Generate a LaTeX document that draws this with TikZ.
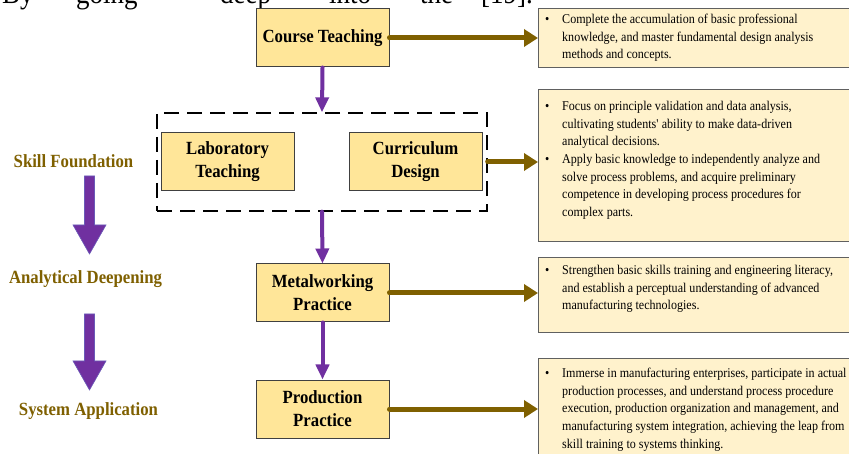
\documentclass[tikz,border=0pt]{standalone}
\usepackage{fontspec}
\setmainfont[FakeStretch=0.9]{Liberation Serif}
\usetikzlibrary{arrows.meta,calc}

\definecolor{boxfill}{HTML}{FFE699}
\definecolor{boxline}{HTML}{404040}
\definecolor{notefill}{HTML}{FFF2CC}
\definecolor{noteline}{HTML}{606060}
\definecolor{stageBrown}{HTML}{7F6000}
\definecolor{stagePurple}{HTML}{7030A0}
\definecolor{arrowEdge}{HTML}{6A5AB8}

\tikzset{
  stagebox/.style={draw=boxline, fill=boxfill, line width=1pt,
    minimum width=133pt, minimum height=58pt, inner sep=0pt, align=center,
    font=\fontsize{18.6}{23}\selectfont\bfseries},
  groupbox/.style={draw=black, line width=1.3pt, dash pattern=on 15pt off 8pt,
    minimum width=330pt, minimum height=98pt, inner sep=0pt},
  notebox/.style={draw=noteline, fill=notefill, line width=1.3pt,
    inner sep=0pt, anchor=north west, minimum width=340pt},
  notetext/.style={anchor=base west, inner sep=0pt,
    font=\fontsize{13.4}{17.7}\selectfont},
  linkarrow/.style={draw=stageBrown, line width=5pt, line cap=round,
    -{Triangle[length=14pt,width=17pt]}},
  flowarrow/.style={draw=stagePurple, line width=4pt, line cap=round,
    -{Triangle[length=15pt,width=13pt]}},
  phase/.style={text=stageBrown, anchor=base, inner sep=0pt,
    font=\fontsize{18.6}{23}\selectfont\bfseries},
  pagetext/.style={anchor=base west, inner sep=0pt,
    font=\fontsize{30}{36}\selectfont},
}

% block arrow between two phase labels: #1 = top of shaft, #2 = tip
\newcommand\phasearrow[2]{%
  \filldraw[fill=stagePurple, draw=arrowEdge, line width=0.6pt]
    ($(#1)+(-5,0)$) -- ($(#1)+(5,0)$) -- ($(#2)+(5,-29)$) -- ($(#2)+(16.5,-29)$)
    -- (#2) -- ($(#2)+(-16.5,-29)$) -- ($(#2)+(-5,-29)$) -- cycle;}

\newcommand\notelines[1]{\begin{minipage}[t]{300pt}\raggedright #1\end{minipage}}

\begin{document}
\begin{tikzpicture}[x=1pt,y=-1pt]
\useasboundingbox (0,0) rectangle (849,454);
\clip (0,0) rectangle (849,454);
\fill[white] (0,0) rectangle (849,454);

% running text of the page above
\node[pagetext] (w1) at (2,4) {By};
\node[pagetext] (w2) at (76,4) {going};
\node[pagetext] (w3) at (220,4) {deep};
\node[pagetext] (w4) at (329,4) {into};
\node[pagetext] (w5) at (420,4) {the};
\node[pagetext] (w6) at (481,4) {[19].};

% stages
\node[stagebox] (ct) at (322.5,38) {Course Teaching};
\node[groupbox] (grp) at (322,162) {};
\node[stagebox] (lab) at (227.5,162) {Laboratory\\Teaching};
\node[stagebox] (cur) at (415.5,162) {Curriculum\\Design};
\node[stagebox] (mp) at (322.5,293) {Metalworking\\Practice};
\node[stagebox] (pp) at (322.5,409) {Production\\Practice};

% description panels
\node[notebox, minimum height=59pt] (d1) at (538,8) {};
\node[notebox, minimum height=152pt] (d2) at (538,89) {};
\node[notebox, minimum height=75pt] (d3) at (538,257) {};
\node[notebox, minimum height=112pt] (d4) at (538,358) {};

\node[notetext] (b1) at (545,23.5) {\textbullet};
\node[notetext] (t1) at (562,23.5) {\notelines{%
  Complete the accumulation of basic professional\\
  knowledge, and master fundamental design analysis\\
  methods and concepts.}};

\node[notetext] (b2) at (545,110.5) {\textbullet};
\node[notetext] (t2) at (562,110.5) {\notelines{%
  Focus on principle validation and data analysis,\\
  cultivating students\textquotesingle{} ability to make data-driven\\
  analytical decisions.}};
\node[notetext] (b3) at (545,163.6) {\textbullet};
\node[notetext] (t3) at (562,163.6) {\notelines{%
  Apply basic knowledge to independently analyze and\\
  solve process problems, and acquire preliminary\\
  competence in developing process procedures for\\
  complex parts.}};

\node[notetext] (b4) at (545,274.5) {\textbullet};
\node[notetext] (t4) at (562,274.5) {\notelines{%
  Strengthen basic skills training and engineering literacy,\\
  and establish a perceptual understanding of advanced\\
  manufacturing technologies.}};

\node[notetext] (b5) at (545,377.5) {\textbullet};
\node[notetext] (t5) at (562,377.5) {\notelines{%
  Immerse in manufacturing enterprises, participate in actual\\
  production processes, and understand process procedure\\
  execution, production organization and management, and\\
  manufacturing system integration, achieving the leap from\\
  skill training to systems thinking.}};

% flow between stages
\draw[flowarrow] (ct.south) -- (grp.north);
\draw[flowarrow] (grp.south) -- (mp.north);
\draw[flowarrow] (mp.south) -- (pp.north);

% links to the descriptions
\draw[linkarrow] (ct.east) -- (ct.east -| d1.west);
\draw[linkarrow] (grp.east) -- (grp.east -| d2.west);
\draw[linkarrow] (mp.east) -- (mp.east -| d3.west);
\draw[linkarrow] (pp.east) -- (pp.east -| d4.west);

% phases
\node[phase] (p1) at (73.5,168) {Skill Foundation};
\node[phase] (p2) at (85.5,284) {Analytical Deepening};
\node[phase] (p3) at (88.5,415) {System Application};
\coordinate (a1top) at (89.5,176);
\coordinate (a1tip) at (89.5,254);
\coordinate (a2top) at (89.5,314);
\coordinate (a2tip) at (89.5,390);
\phasearrow{a1top}{a1tip}
\phasearrow{a2top}{a2tip}
\end{tikzpicture}
\end{document}
